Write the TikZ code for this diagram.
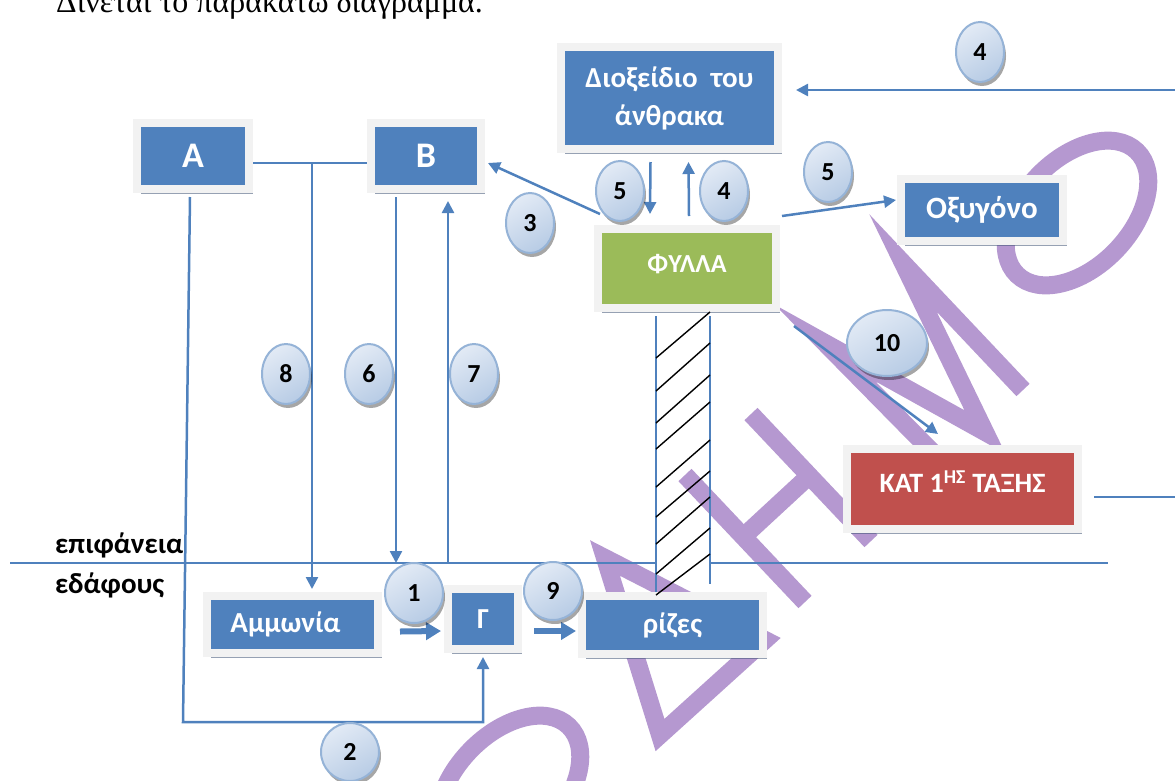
\documentclass[tikz,border=0pt]{standalone}
\usepackage{fontspec}
\setmainfont{Carlito}
\newfontfamily\serifgr{Liberation Serif}
\usetikzlibrary{arrows.meta,shapes.geometric,shadows}

\definecolor{boxblue}{RGB}{79,129,189}
\definecolor{leafgreen}{RGB}{155,187,89}
\definecolor{katred}{RGB}{192,80,77}
\definecolor{framegray}{RGB}{242,242,242}
\definecolor{shadowc}{RGB}{64,84,117}
\definecolor{ovlA}{RGB}{226,234,245}
\definecolor{ovlB}{RGB}{184,204,229}
\definecolor{ovlline}{RGB}{149,179,215}
\definecolor{wmpurple}{RGB}{181,152,208}

\begin{document}
\begin{tikzpicture}[x=1pt,y=-1pt,
    box/.style={draw=framegray,line width=8pt,fill=boxblue,text=white,inner sep=0pt,
      font=\bfseries\fontsize{29}{38}\selectfont,align=center,
      drop shadow={shadow xshift=4pt,shadow yshift=-5pt,fill=shadowc,opacity=.55}},
    oval/.style={ellipse,draw=ovlline,line width=2pt,inner sep=0pt,
      minimum width=48pt,minimum height=60pt,
      shading=axis,top color=ovlA,bottom color=ovlB,shading angle=30,
      font=\bfseries\fontsize{26}{26}\selectfont,
      drop shadow={shadow xshift=2pt,shadow yshift=-4pt,fill=black,opacity=.35}},
    conn/.style={draw=boxblue,line width=2.5pt},
    arr/.style={conn,-{Triangle[length=12pt,width=12pt]}},
    fat/.style={draw=boxblue,line width=6pt,-{Triangle[length=15pt,width=17pt]}},
    hatch/.style={draw=black,line width=1.4pt},
    wm/.style={draw=wmpurple,line width=18pt,line join=miter},
    lbl/.style={anchor=west,inner sep=0pt,font=\bfseries\fontsize{29}{30}\selectfont}]
  \useasboundingbox (0,0) rectangle (1175,780);
  \clip (0,0) rectangle (1175,780);

  % watermark letters
  \begin{scope}[wm]
    \draw[rotate around={46:(1077,213)}] (1077,213) ellipse [x radius=86,y radius=54];
    \draw[rotate around={46:(509,788)}] (509,788) ellipse [x radius=86,y radius=54];
    \draw (660,735) -- (605,558) -- (765,640) -- cycle;
    \draw (685,475) -- (805,602);
    \draw (751,414) -- (871,541);
    \draw (743,537) -- (809,476);
    \draw (950,470) -- (825,343) -- (985,432) -- (903,263) -- (1023,390);
  \end{scope}

  \node[anchor=base west,inner sep=0pt,font=\serifgr\fontsize{32}{32}\selectfont] (title) at (56,12) {Δίνεται το παρακάτω διάγραμμα.};

  % boxes
  \node[box,minimum width=112pt,minimum height=66pt,font=\bfseries\fontsize{36}{36}\selectfont] (A) at (193,156) {Α};
  \node[box,minimum width=110pt,minimum height=66pt,font=\bfseries\fontsize{36}{36}\selectfont] (B) at (426,156) {Β};
  \node[box,minimum width=217pt,minimum height=102pt] (co2) at (669.5,98) {Διοξείδιο \ του\\άνθρακα};
  \node[box,minimum width=162pt,minimum height=62pt,font=\bfseries\fontsize{31}{31}\selectfont] (oxy) at (982,210) {Οξυγόνο};
  \node[box,fill=leafgreen,minimum width=178pt,minimum height=79pt,font=\bfseries\fontsize{26}{26}\selectfont,text depth=10pt] (leaf) at (687,268.5) {ΦΥΛΛΑ};
  \node[box,fill=katred,minimum width=231pt,minimum height=80pt,font=\bfseries\fontsize{28}{28}\selectfont,text depth=14pt] (kat) at (962.5,489) {ΚΑΤ 1\textsuperscript{ΗΣ} ΤΑΞΗΣ};
  \node[box,minimum width=171pt,minimum height=57pt] (amm) at (292.5,624.5) {Αμμωνία\hspace*{14pt}};
  \node[box,minimum width=70pt,minimum height=60pt] (G) at (483,619) {Γ};
  \node[box,minimum width=181pt,minimum height=58pt] (roots) at (672.5,625) {ρίζες};

  % ground
  \coordinate (sL) at (10,563);
  \coordinate (sR) at (1108,563);
  \coordinate (tk1) at ([xshift=-31pt,yshift=-4pt]leaf.south);
  \coordinate (tk2) at ([xshift=23pt,yshift=-4pt]leaf.south);
  \draw[conn] (sL) -- (sL -| tk1);
  \draw[conn] (sL -| tk2) -- (sR);
  \draw[conn] (tk1) -- (tk1 |- roots.north);
  \draw[conn] (tk2) -- ([yshift=8pt]tk2 |- roots.north);
  \foreach \ya/\yb in {358/312,391/343,423/375,449/402,487/440,517/471,544/497,574/528,595/554}
    \draw[hatch] (656,\ya) -- (710,\yb);
  \node[lbl] (epif) at (55,545) {επιφάνεια};
  \node[lbl] (edaf) at (55,585) {εδάφους};

  % connectors
  \coordinate (j8) at (312,163);
  \draw[conn] ([yshift=-7pt]A.east) -- ([yshift=-7pt]B.west);
  \draw[arr] (j8) -- ([yshift=3pt]j8 |- amm.north);
  \coordinate (c2) at (183,722);
  \draw[arr] ([xshift=-3pt,yshift=-4pt]A.south) -- (c2) -- (c2 -| G.south) -- ([yshift=-4pt]G.south);
  \draw[arr] ([xshift=-30pt,yshift=-4pt]B.south) -- ([xshift=-30pt]B.south |- sL);
  \draw[arr] ([xshift=22pt]B.south |- sL) -- ([xshift=22pt,yshift=-8pt]B.south);
  \draw[arr] ([xshift=-87pt,yshift=11pt]leaf.north) -- ([xshift=3pt,yshift=-7pt]B.east);
  \draw[arr] ([xshift=-19pt,yshift=-9pt]co2.south) -- ([xshift=-37pt,yshift=11pt]leaf.north);
  \draw[arr] ([xshift=2pt,yshift=9pt]leaf.north) -- ([xshift=19pt,yshift=-9pt]co2.south);
  \draw[arr] ([xshift=2pt,yshift=9pt]leaf.north east) -- ([xshift=-1pt,yshift=10pt]oxy.west);
  \coordinate (e4) at (1175,90);
  \draw[arr] (e4) -- ([xshift=14pt]e4 -| co2.east);
  \draw[arr] ([xshift=14pt,yshift=-14pt]leaf.south east) -- ([xshift=95pt,yshift=11pt]kat.north west);
  \coordinate (e10) at (1175,497);
  \draw[conn] ([xshift=12pt]e10 -| kat.east) -- (e10);
  \draw[fat] ([xshift=18pt,yshift=-7pt]amm.east) -- ([xshift=-3pt,yshift=-12pt]G.west);
  \draw[fat] ([xshift=12pt,yshift=-12pt]G.east) -- ([xshift=-2pt,yshift=-6pt]roots.west);

  % numbers
  \node[oval] (n4a) at (980,52) {4};
  \node[oval] (n5a) at (620,191) {5};
  \node[oval] (n4b) at (724,191) {4};
  \node[oval] (n5b) at (828,172) {5};
  \node[oval] (n3) at (530,223) {3};
  \node[oval] (n8) at (286,374) {8};
  \node[oval] (n6) at (369,374) {6};
  \node[oval] (n7) at (474,374) {7};
  \node[oval,minimum width=80pt,minimum height=66pt] (n10) at (887,343) {10};
  \node[oval,minimum width=58pt,minimum height=60pt] (n1) at (414,593) {1};
  \node[oval,minimum width=58pt,minimum height=58pt] (n9) at (553,591) {9};
  \node[oval,minimum width=58pt,minimum height=58pt] (n2) at (350,752) {2};
\end{tikzpicture}
\end{document}
